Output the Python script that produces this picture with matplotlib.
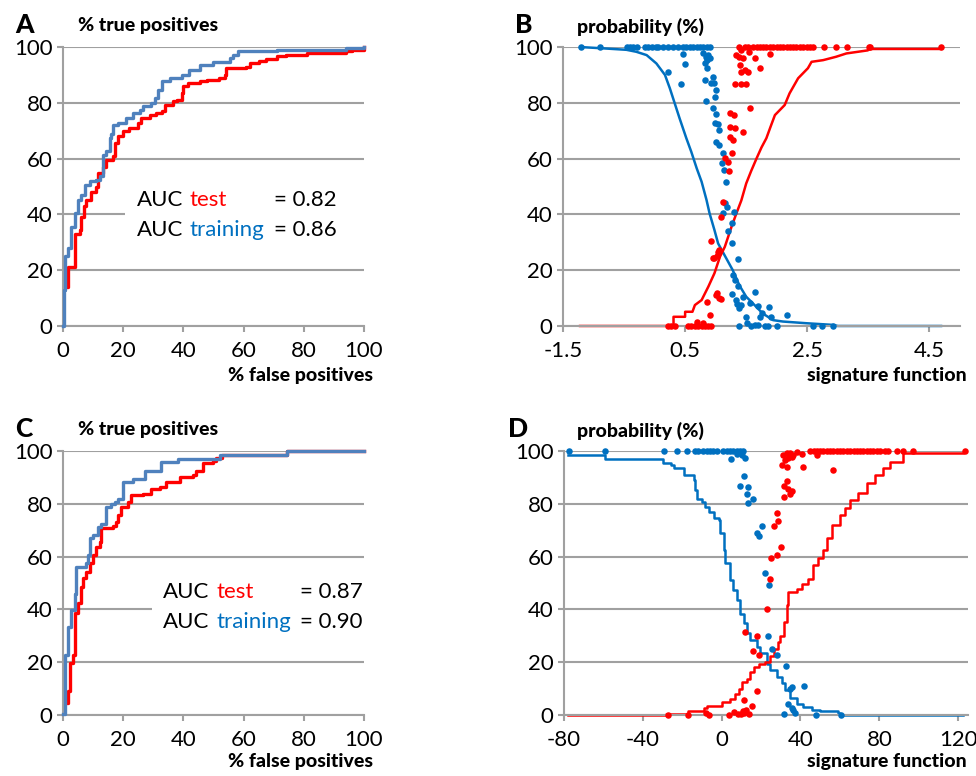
import matplotlib
matplotlib.use('Agg')
import matplotlib.pyplot as plt
from matplotlib.patches import Rectangle

plt.rcParams['font.family'] = ['Lato', 'DejaVu Sans']

RED = '#FF0000'
ROC_BLUE = '#4F81BD'
BLUE = '#0070C0'
GRID = '#A0A0A0'

# ---- A: ROC curves (% false positives vs % true positives) ----
a_test_fpr = [0.3, 1.7, 3.9, 5.5, 6.1, 7.0, 7.8, 9.4, 11, 11.6, 13.3, 14.4, 16.6, 17.2, 18.3,
              20, 22, 25, 26, 28.8, 31, 33, 33.8, 36.6, 38, 39.4, 40, 41.6, 45.5, 48,
              52, 53.8, 54.3, 60.9, 62, 65, 67.6, 71, 74, 81, 94, 96, 100]
a_test_tpr = [14, 21, 33, 34.4, 39, 43, 45, 48, 50, 55, 57, 59.5, 61, 65.5, 68,
              70, 71, 72.7, 74.5, 75.7, 76.3, 77, 79.3, 80.5, 81, 83.5, 86, 87, 87.7, 88.3,
              88.9, 90, 92.5, 93, 94.3, 95, 95.7, 96.7, 97.2, 98, 98.4, 99, 100]
a_train_fpr = [0, 0.2, 0.6, 1.7, 2.8, 3.9, 5, 6, 7.2, 8.9, 11, 12.2, 13.3, 14.4, 15.5, 16, 16.6,
               18.3, 21, 23.3, 25.5, 26.6, 29.4, 30.5, 31.6, 33, 35.5, 39.4, 42, 45.5,
               50, 53.8, 55.4, 56.5, 58.2, 71, 94, 100]
a_train_tpr = [0, 13, 25, 28, 35.6, 40.4, 45, 47, 50.6, 51.8, 52.4, 53.6, 61.4, 62.6, 67.3, 69, 72,
               72.7, 74.5, 76.3, 77.5, 79, 80, 81.8, 84.7, 87.7, 88.9, 90, 91.9, 93.7,
               94.6, 94.8, 96, 97.2, 98.4, 99, 99.6, 100]
auc_a = ['0.82', '0.86']

# ---- C: ROC curves ----
c_test_fpr = [1.1, 1.7, 2.2, 3.3, 3.9, 5, 6.1, 6.7, 7.8, 8.9, 10, 11, 12.2, 12.8, 16.6, 17.7,
              18.3, 19.4, 21.6, 22.7, 26.6, 29.4, 32.2, 34.4, 38.8, 43.2, 44.3, 46.6, 49.9, 51,
              52.7, 74.3, 100]
c_test_tpr = [4.5, 9, 19.6, 22.8, 38.5, 42.3, 48.6, 51.8, 54.3, 57.4, 60.6, 63.7, 65.6, 70.7, 71.5, 73.2,
              75.7, 78.8, 80.7, 83.2, 83.8, 85.6, 86.5, 88.2, 90.3, 91.1, 92.6, 95.5, 96.1, 97.5,
              98.4, 100, 100]
c_train_fpr = [0, 0.6, 1.7, 2.8, 3.9, 4.4, 7.8, 8.3, 8.9, 10, 11.6, 12.8, 14.4, 16, 17.2, 18.3,
               20, 23.3, 27.2, 32.7, 38.2, 52.1, 74.3, 100]
c_train_tpr = [0.5, 22.8, 33.5, 39.8, 46, 56.2, 57.4, 60.6, 66.9, 68.1, 71.3, 72.5, 78.8, 80, 80.7, 81.9,
               88.2, 89.4, 92.6, 95.8, 97, 98.4, 100, 100]
auc_c = ['0.87', '0.90']

# ---- B: probability vs signature function ----
b_blue_x = [-1.22, -0.9, -0.46, -0.30, -0.13, 0.03, 0.17, 0.25, 0.33, 0.41, 0.52, 0.60, 0.69, 0.77,
            0.85, 0.90, 0.98, 1.04, 1.16, 1.28, 1.39, 1.50, 1.61, 1.77, 1.94, 2.10, 2.48, 2.92,
            3.0, 4.69]
b_blue_y = [100, 99.6, 99, 98.3, 97.1, 94.1, 90, 85.2, 79.8, 74.4, 67.3, 62.5, 56.5, 51.7,
            45.2, 40.4, 34.4, 29.6, 24.8, 20, 14.5, 10.5, 8.1, 4.5, 2.1, 1.6, 1.0, 0.4,
            0, 0]
b_red_x = [-1.22, 0.31, 0.31, 0.50, 0.50, 0.62, 0.66, 0.77, 0.88, 0.98, 1.07, 1.15, 1.26, 1.34,
           1.42, 1.50, 1.58, 1.67, 1.75, 1.83, 1.90, 1.97, 2.13, 2.21, 2.35, 2.51, 2.57, 2.76,
           2.97, 3.14, 3.49, 3.52, 4.69]
b_red_y = [0, 0, 3.3, 3.3, 5.1, 5.1, 7.5, 9.3, 14.1, 18.9, 24.8, 28.4, 35.6, 40.4,
           45, 51.1, 55.5, 60.1, 64, 67.3, 71.5, 75.6, 79.2, 83.4, 88.8, 92.4, 94.7, 95.3,
           96.5, 97.7, 98.8, 99.3, 99.3]

b_blue_dx = [-1.21, -0.90, -0.45, -0.40, -0.35, -0.29, -0.16, -0.10, -0.05, 0.02, 0.06, 0.14, 0.22,
             0.30, 0.39, 0.47, 0.52, 0.58, 0.63, 0.69, 0.74, 0.79, 0.85, 0.90,
             0.47, 0.50, 0.44, 0.22, 0.80, 0.84, 0.86, 0.82, 0.88, 0.90, 0.85, 0.82, 0.96, 0.97,
             0.93, 1.00, 0.99, 0.84, 0.96, 1.01, 0.99, 1.04, 1.06, 1.01, 1.05, 1.12, 1.11, 1.14,
             1.17, 1.16, 1.19, 1.12, 1.30, 1.26, 1.20, 1.27, 1.36, 1.28, 1.31, 1.37, 1.27, 1.33,
             1.39, 1.45, 1.64, 1.56, 1.69, 1.88, 1.49, 1.39, 1.58, 1.64, 1.72, 1.80, 1.91, 1.86,
             2.00, 2.16, 2.59, 2.74, 2.92, 1.76, 1.35, 1.42, 1.52, 1.70]
b_blue_dy = [100, 100, 100, 100, 100, 100, 100, 100, 100, 100, 100, 100, 100,
             100, 100, 100, 100, 100, 100, 100, 100, 100, 100, 100,
             97.4, 93.8, 86.6, 90.9, 97.7, 96.5, 95.3, 94.1, 97.0, 96.0, 92.4, 88.2, 89.4, 87.0,
             87.0, 84.6, 82.2, 80.6, 78.2, 75.9, 72.6, 72.3, 70.2, 65.8, 64.9, 61.9, 58.3, 55.9,
             51.7, 44.0, 42.8, 40.4, 41.0, 36.8, 34.2, 29.9, 24.0, 18.3, 16.5, 14.3, 11.4, 9.3,
             6.3, 10.3, 12.1, 8.1, 7.2, 6.9, 3.3, 0, 0, 0.4, 3.1, 0, 3.3, 0,
             0, 4.0, 0, 0, 0, 4.8, 8.0, 7.5, 1.0, 0.5]
b_red_dx = [1.39, 1.48, 1.53, 1.61, 1.67, 1.72, 1.78, 1.83, 1.89, 1.94, 2.00, 2.05, 2.10, 2.16,
            2.21, 2.27, 2.32, 2.38, 2.43, 2.49, 2.54, 2.59, 2.78, 2.97, 3.15, 3.51, 3.53, 4.69,
            1.34, 1.42, 1.55, 1.45, 1.39, 1.64, 1.89, 1.40, 1.48, 1.53, 1.42, 1.31, 1.42, 1.50,
            1.73, 1.57, 1.23, 1.30, 1.23, 1.31, 1.45, 1.23, 1.28, 1.26, 1.16, 1.20, 1.22, 1.12,
            1.09, 0.92, 1.06, 1.04, 0.97, 0.95, 1.03, 1.00, 1.05, 1.02, 0.85, 0.90, 1.08,
            0.22, 0.27, 0.33, 0.55, 0.60, 0.66, 0.71, 0.77, 0.82, 0.88, 0.93, 0.69, 0.80]
b_red_dy = [100, 100, 100, 100, 100, 100, 100, 100, 100, 100, 100, 100, 100, 100,
            100, 100, 100, 100, 100, 100, 100, 100, 100, 100, 100, 100, 100, 100,
            97.1, 98.9, 98.2, 95.9, 96.5, 95.9, 97.6, 93.5, 91.8, 91.2, 91.2, 86.6, 86.9, 86.9,
            92.4, 78.0, 76.2, 75.6, 71.4, 71.1, 69.6, 67.8, 66.6, 61.9, 60.1, 58.9, 55.4, 44.4,
            39.2, 30.4, 27.3, 26.5, 24.3, 24.5, 25.0, 11.1, 10.0, 12.0, 8.7, 3.9, 9.5,
            0, 0, 0, 0, 0, 0, 0, 0, 0, 0, 0, 1.6, 1.0]

# ---- D: probability vs signature function ----
d_blue_x = [-77.8, -59.2, -29.6, -25.9, -24.2, -19.2, -14.2, -13.3, -12.5, -9.9, -8.3, -6.6, -4.1,
            -1.5, -0.7, 1.0, 1.8, 4.4, 6.0, 7.7, 9.4, 11.1, 12.8, 14.5, 17.8, 19.5, 22.9, 24.6,
            28.0, 30.5, 32.2, 34.7, 38.1, 41.5, 45.7, 49.9, 59.2, 60.0, 122.5]
d_blue_y = [98.5, 96.8, 95.6, 94.7, 93.4, 90.9, 89, 85.2, 82, 80.8, 78.9, 77, 74.5,
            73.9, 68.8, 62.5, 57.4, 51.1, 47.3, 43.5, 38.4, 34.7, 30.9, 28.4, 25.8, 23.3, 19.5, 17,
            14.5, 12, 9.5, 6.3, 4.2, 3.2, 2, 1.4, 0.8, 0, 0]
d_red_x = [-77.8, -28.5, -17.3, -8.8, -7.2, 0.2, 4.4, 6.9, 8.6, 10.3, 12.8, 14.5, 16.2, 18.7, 22.1,
           24.6, 26.3, 28.8, 29.7, 31.4, 33.0, 33.9, 38.1, 40.6, 44.0, 46.5, 49.0, 51.6, 53.3, 55.8,
           60.0, 62.5, 65.1, 69.3, 73.5, 77.7, 81.9, 85.3, 92.2, 122.5]
d_red_y = [0, 0.4, 1.4, 2.7, 3.5, 5.0, 6, 7.9, 9.8, 12.4, 13.6, 16.2, 18.1, 19.4, 20,
           22.5, 25.1, 27.6, 30.1, 35.2, 41.5, 46.6, 47.9, 49.8, 51.7, 56.8, 59.3, 62.5, 66.9, 72,
           75.8, 78.3, 81.5, 84, 87.8, 91, 93.5, 96, 99.1, 99.1]

d_blue_dx = [-77.3, -59.2, -29.1, -22.8, -17.7, -13.5, -11.8, -9.3, -7.6, -5.9, -4.2, -2.5, 0.9,
             2.6, 4.3, 5.9, 7.6, 9.3, 11.0,
             4.6, 11.9, 7.6, 10.5, 11.4, 9.3, 13.6, 12.8, 13.6, 16.1, 17.8, 18.7, 20.4, 22.1, 24.2,
             23.4, 25.4, 28, 32.7, 35.6, 34.7, 33.9, 35.6, 36.4, 37.3, 31.4, 41.9, 47.9, 60.4]
d_blue_dy = [100, 100, 100, 100, 100, 100, 100, 100, 100, 100, 100, 100, 100,
             100, 100, 100, 100, 100, 100,
             96.8, 97.2, 98.7, 98.5, 90.5, 86.7, 86.2, 83.9, 80.4, 81.7, 68.8, 67.8, 71.7, 53.8, 49.2,
             30.1, 25.1, 22.8, 18.7, 10.5, 9.8, 4.0, 2.7, 2.0, 0.8, 0.4, 11.1, 0, 0]
d_red_dx = [44.9, 46.6, 48.3, 50.0, 51.6, 53.3, 55.0, 56.7, 58.4, 60.1, 61.8, 63.5, 65.2, 66.9,
            68.6, 70.2, 71.9, 73.6, 75.3, 77.0, 78.7, 80.4, 82.9, 84.6, 88.9, 92.2, 97.3, 123.5,
            31.3, 33.0, 34.7, 35.6, 33.9, 32.2, 36.4, 38.1, 40.6, 48.3, 30.5, 33.0, 41.4, 56.7,
            31.4, 33.3, 33.9, 35.6, 34.7, 31.4, 28, 28.6, 26.6, 30, 28, 24.9, 24.6, 23.2,
            11.9, 17.8, 16.1, 19.1, 17.8, 11.5, 15.3, 10.6, 11.5, 14.0, 9.8, 8.1, 3.9, 6.4,
            -6.3, -17.3, -27.4, -8.0, 12.5]
d_red_dy = [100, 100, 100, 100, 100, 100, 100, 100, 100, 100, 100, 100, 100, 100,
            100, 100, 100, 100, 100, 100, 100, 100, 100, 100, 100, 100, 100, 100,
            98.5, 99.1, 99.4, 97.9, 97.2, 96.6, 98.5, 99.7, 98.9, 98.5, 94.7, 94.1, 94.1, 92.8,
            86.6, 88.6, 85.5, 84.9, 83.6, 82.6, 76.4, 73.6, 71.5, 63.5, 60.6, 59.3, 51.7, 40.3,
            31.4, 29.9, 24.3, 22.7, 9.1, 5.8, 3.5, 1.5, 0.8, 0.5, 0.2, 0.5, 0, 1.2,
            0, 0, 0, 0.8, 2.0]

y_ticks = [0, 20, 40, 60, 80, 100]
roc_ticks = [0, 20, 40, 60, 80, 100]
b_ticks = [-1.5, 0.5, 2.5, 4.5]
b_ticklabels = ['-1.5', '0.5', '2.5', '4.5']
d_ticks = [-80, -40, 0, 40, 80, 120]
d_ticklabels = ['-80', '-40', '0', '40', '80', '120']


def style_axes(ax, xlim, xticks, xticklabels):
    ax.set_xlim(*xlim)
    ax.set_ylim(0, 100)
    ax.set_yticks(y_ticks)
    ax.set_xticks(xticks)
    ax.set_xticklabels(xticklabels)
    for s in ['top', 'right']:
        ax.spines[s].set_visible(False)
    for s in ['left', 'bottom']:
        ax.spines[s].set_color(GRID)
        ax.spines[s].set_linewidth(1.5)
    ax.grid(axis='y', color=GRID, lw=1.5)
    ax.set_axisbelow(True)
    ax.tick_params(length=4.5, width=1.5, color=GRID, labelsize=16)
    ax.tick_params(axis='y', pad=3)
    ax.tick_params(axis='x', pad=6.5)
    ax.patch.set_alpha(0)


def auc_box(ax, xs, ys, box, vals):
    # white panel behind the AUC text hides the grid lines
    ax.add_patch(Rectangle((box[0], box[1]), box[2], box[3], facecolor='white',
                           edgecolor='none', zorder=1.5))
    kw = dict(fontsize=16, va='center', ha='left', zorder=4)
    ax.text(xs[0], ys[0], 'AUC', **kw)
    ax.text(xs[1], ys[0], 'test', color=RED, **kw)
    ax.text(xs[2], ys[0], '= ' + vals[0], **kw)
    ax.text(xs[0], ys[1], 'AUC', **kw)
    ax.text(xs[1], ys[1], 'training', color=BLUE, **kw)
    ax.text(xs[2], ys[1], '= ' + vals[1], **kw)


fig = plt.figure(figsize=(9.76, 7.76), dpi=100)
axA = fig.add_axes([0.0645, 0.5799, 0.3084, 0.3595])
axB = fig.add_axes([0.5768, 0.5799, 0.4068, 0.3595])
axC = fig.add_axes([0.0645, 0.0786, 0.3084, 0.3402])
axD = fig.add_axes([0.5779, 0.0786, 0.4139, 0.3402])

# ROC panels
for ax, tf, tt, rf, rt, vals, xs, ys, box in [
        (axA, a_test_fpr, a_test_tpr, a_train_fpr, a_train_tpr, auc_a,
         (24.6, 42.2, 70.1), (45.2, 34.4), (20.6, 26, 79.4, 28)),
        (axC, c_test_fpr, c_test_tpr, c_train_fpr, c_train_tpr, auc_c,
         (33.3, 50.9, 78.7), (46.7, 35.3), (29.6, 25, 70.4, 29))]:
    style_axes(ax, (0, 100), roc_ticks, [str(t) for t in roc_ticks])
    ax.step(tf, tt, where='post', color=RED, lw=2.4, zorder=2, clip_on=False)
    ax.step(rf, rt, where='post', color=ROC_BLUE, lw=2.4, zorder=3, clip_on=False)
    auc_box(ax, xs, ys, box, vals)

# probability panels
style_axes(axB, (-1.5, 5.0), b_ticks, b_ticklabels)
axB.plot(b_blue_x, b_blue_y, color=BLUE, lw=1.8, zorder=2, clip_on=False)
axB.plot(b_red_x, b_red_y, color=RED, lw=1.8, zorder=2, clip_on=False)
axB.scatter(b_blue_dx, b_blue_dy, s=22, color=BLUE, linewidths=0, zorder=3, clip_on=False)
axB.scatter(b_red_dx, b_red_dy, s=22, color=RED, linewidths=0, zorder=3, clip_on=False)

style_axes(axD, (-80, 125), d_ticks, d_ticklabels)
axD.step(d_blue_x, d_blue_y, where='post', color=BLUE, lw=1.8, zorder=2, clip_on=False)
axD.step(d_red_x, d_red_y, where='post', color=RED, lw=1.8, zorder=2, clip_on=False)
axD.scatter(d_blue_dx, d_blue_dy, s=22, color=BLUE, linewidths=0, zorder=3, clip_on=False)
axD.scatter(d_red_dx, d_red_dy, s=22, color=RED, linewidths=0, zorder=3, clip_on=False)

# panel letters and axis titles
bold = dict(fontweight='black', family=['Lato', 'DejaVu Sans'], va='baseline')
for letter, lx, ly in [('A', 0.0154, 0.9575), ('B', 0.5277, 0.9575),
                       ('C', 0.0154, 0.4369), ('D', 0.5205, 0.4369)]:
    fig.text(lx, ly, letter, fontsize=19, **bold)
fig.text(0.0799, 0.9600, '% true positives', fontsize=14, **bold)
fig.text(0.0799, 0.4394, '% true positives', fontsize=14, **bold)
fig.text(0.5912, 0.9575, 'probability (%)', fontsize=14, **bold)
fig.text(0.5912, 0.4369, 'probability (%)', fontsize=14, **bold)
fig.text(0.3822, 0.5090, '% false positives', fontsize=14, ha='right', **bold)
fig.text(0.3822, 0.0116, '% false positives', fontsize=14, ha='right', **bold)
fig.text(0.9908, 0.5090, 'signature function', fontsize=14, ha='right', **bold)
fig.text(0.9908, 0.0116, 'signature function', fontsize=14, ha='right', **bold)

fig.savefig('out.png', dpi=100)
